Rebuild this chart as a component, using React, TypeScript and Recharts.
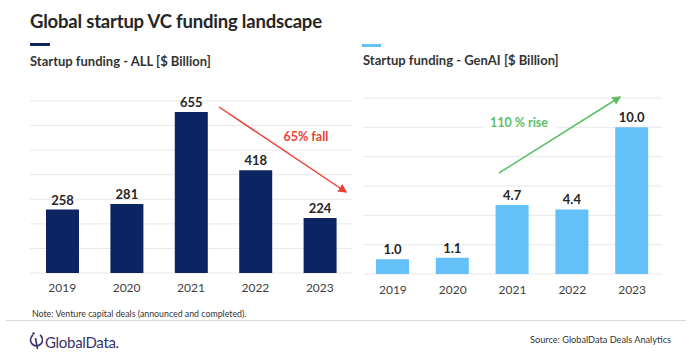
import React from 'react';
import { BarChart, Bar, XAxis, YAxis, CartesianGrid, LabelList } from 'recharts';

// values
const years = ['2019', '2020', '2021', '2022', '2023'];
const allFunding = [258, 281, 655, 418, 224];
const genAiFunding = [1.0, 1.1, 4.7, 4.4, 10.0];
const allTicks = [0, 100, 200, 300, 400, 500, 600, 700];
const genAiTicks = [0, 2, 4, 6, 8, 10, 12];

const FONT = 'Lato, "Open Sans", sans-serif';
const NAVY = '#0c2461';
const SKY = '#64c0f8';

const allData = years.map((y, i) => ({ year: y, value: allFunding[i] }));
const genAiData = years.map((y, i) => ({ year: y, value: genAiFunding[i] }));

const tickStyle = { fontSize: 12, fill: '#404040', fontFamily: FONT };
const labelStyle = { fontSize: 13, fill: '#262626', fontWeight: 700, fontFamily: FONT };

const App: React.FC = () => {
    return (
        <div style={{ position: 'absolute', left: 0, top: 0, width: 696, height: 360, background: '#fff', fontFamily: FONT, overflow: 'hidden' }}>
            {/* Titles */}
            <div style={{ position: 'absolute', left: 30, top: 10, fontSize: 18.5, fontWeight: 700, color: '#262626', letterSpacing: -0.2, whiteSpace: 'nowrap' }}>
                Global startup VC funding landscape
            </div>
            <div style={{ position: 'absolute', left: 30, top: 43, width: 20, height: 3, background: NAVY }} />
            <div style={{ position: 'absolute', left: 30, top: 53, fontSize: 13, fontWeight: 700, color: '#333', whiteSpace: 'nowrap' }}>
                Startup funding - ALL [$ Billion]
            </div>
            <div style={{ position: 'absolute', left: 362, top: 44, width: 19, height: 3, background: SKY }} />
            <div style={{ position: 'absolute', left: 363, top: 52, fontSize: 13, fontWeight: 700, color: '#333', whiteSpace: 'nowrap' }}>
                Startup funding - GenAI [$ Billion]
            </div>

            {/* Left chart */}
            <div style={{ position: 'absolute', left: 0, top: 0 }}>
                <BarChart width={370} height={310} data={allData} margin={{ top: 101, right: 18, left: 30, bottom: 0 }}>
                    <CartesianGrid vertical={false} stroke="#e8e8e8" />
                    <XAxis dataKey="year" axisLine={false} tickLine={false} tickSize={0} tickMargin={10} height={37} tick={tickStyle} />
                    <YAxis hide domain={[0, 700]} ticks={allTicks} />
                    <Bar dataKey="value" fill={NAVY} barSize={33} isAnimationActive={false}>
                        <LabelList dataKey="value" position="top" offset={5} style={labelStyle} />
                    </Bar>
                </BarChart>
            </div>

            {/* Right chart */}
            <div style={{ position: 'absolute', left: 350, top: 0 }}>
                <BarChart width={346} height={310} data={genAiData} margin={{ top: 98, right: 34, left: 13, bottom: 0 }}>
                    <CartesianGrid vertical={false} stroke="#e8e8e8" />
                    <XAxis dataKey="year" axisLine={false} tickLine={false} tickSize={0} tickMargin={11} height={36} tick={tickStyle} />
                    <YAxis hide domain={[0, 12]} ticks={genAiTicks} />
                    <Bar dataKey="value" fill={SKY} barSize={33} isAnimationActive={false}>
                        <LabelList dataKey="value" position="top" offset={5} style={labelStyle} formatter={(v: any) => Number(v).toFixed(1)} />
                    </Bar>
                </BarChart>
            </div>

            {/* Annotations */}
            <svg width={696} height={360} style={{ position: 'absolute', left: 0, top: 0, pointerEvents: 'none' }}>
                <defs>
                    <marker id="arrRed" markerWidth="6" markerHeight="6" refX="5" refY="3" orient="auto">
                        <path d="M0,0 L6,3 L0,6 Z" fill="#ee4035" />
                    </marker>
                    <marker id="arrGreen" markerWidth="6" markerHeight="6" refX="5" refY="3" orient="auto">
                        <path d="M0,0 L6,3 L0,6 Z" fill="#5cbf63" />
                    </marker>
                </defs>
                <rect x={280} y={126} width={53} height={18} fill="#fff" />
                <text x={306} y={136} textAnchor="middle" dominantBaseline="central" fontSize={12.5} fontWeight={700} fill="#ee4035" fontFamily={FONT}>65% fall</text>
                <line x1={219} y1={107} x2={346} y2={192} stroke="#ee4035" strokeWidth={1.5} markerEnd="url(#arrRed)" />

                <rect x={483} y={115} width={74} height={17} fill="#fff" />
                <text x={519} y={122} textAnchor="middle" dominantBaseline="central" fontSize={12.5} fontWeight={700} fill="#5cbf63" fontFamily={FONT}>110 % rise</text>
                <line x1={499} y1={173} x2={620} y2={97} stroke="#5cbf63" strokeWidth={1.5} markerEnd="url(#arrGreen)" />
            </svg>

            {/* Footer */}
            <div style={{ position: 'absolute', left: 32, top: 308, fontSize: 8.8, color: '#333', whiteSpace: 'nowrap' }}>
                Note: Venture capital deals (announced and completed).
            </div>
            <div style={{ position: 'absolute', left: 6, top: 320, width: 680, height: 1, background: '#d9d9d9' }} />
            <svg width={14} height={18} style={{ position: 'absolute', left: 29, top: 332 }}>
                <path d="M4,3 A6,6 0 1,0 11,3" fill="none" stroke="#3a3268" strokeWidth={1.6} />
                <line x1={6.5} y1={6} x2={8.5} y2={17} stroke="#3a3268" strokeWidth={1.6} />
                <circle cx={4.5} cy={1.5} r={1.2} fill="#3a3268" />
            </svg>
            <div style={{ position: 'absolute', left: 45, top: 333, fontSize: 15, color: '#3a3268', letterSpacing: -0.3, whiteSpace: 'nowrap' }}>
                GlobalData.
            </div>
            <div style={{ position: 'absolute', left: 530, top: 334, fontSize: 9.2, color: '#333', whiteSpace: 'nowrap' }}>
                Source:  GlobalData Deals Analytics
            </div>
        </div>
    );
};

export default App;
